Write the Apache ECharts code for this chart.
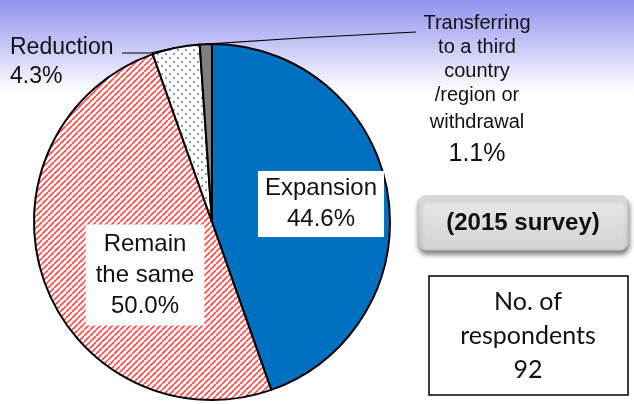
<!DOCTYPE html>
<html>
<head>
<meta charset="utf-8">
<script src="https://cdn.jsdelivr.net/npm/echarts@6/dist/echarts.min.js"></script>
<style>
  html, body { margin: 0; padding: 0; background: #fff; }
  #chart { width: 634px; height: 404px; }
</style>
</head>
<body>
<div id="chart"></div>
<script>
// data
const categories = ['Expansion', 'Remain the same', 'Reduction', 'Transferring to a third country /region or withdrawal'];
const shares = [44.6, 50.0, 4.3, 1.1];
const surveyLabel = '(2015 survey)';
const respondents = 92;

// fill patterns
function stripePattern() {
  const s = 6;
  const c = document.createElement('canvas');
  c.width = s; c.height = s;
  const ctx = c.getContext('2d');
  ctx.fillStyle = '#fff';
  ctx.fillRect(0, 0, s, s);
  ctx.strokeStyle = '#ff4848';
  ctx.lineWidth = 1.6;
  for (const x0 of [-s, 0, s]) {
    ctx.beginPath();
    ctx.moveTo(x0, s);
    ctx.lineTo(x0 + s, 0);
    ctx.stroke();
  }
  return c;
}
function dotPattern() {
  const s = 8;
  const c = document.createElement('canvas');
  c.width = s; c.height = s;
  const ctx = c.getContext('2d');
  ctx.fillStyle = '#fff';
  ctx.fillRect(0, 0, s, s);
  ctx.fillStyle = '#9a9a9a';
  for (const [x, y] of [[2, 2], [6, 6]]) {
    ctx.beginPath();
    ctx.arc(x, y, 1.2, 0, Math.PI * 2);
    ctx.fill();
  }
  return c;
}

const fills = [
  '#0070c0',
  { image: stripePattern(), repeat: 'repeat' },
  { image: dotPattern(), repeat: 'repeat' },
  '#808080'
];

const font = '"Liberation Sans", Arial, sans-serif';

// label text per slice
function labelText(i) {
  const pct = shares[i].toFixed(1) + '%';
  if (i === 0) return '{b|Expansion}\n{b|' + pct + '}';
  if (i === 1) return '{b|Remain}\n{b|the same}\n{b|' + pct + '}';
  if (i === 2) return '{r|Reduction}\n{r|' + pct + '}';
  return '{t|Transferring}\n{t|to a third}\n{t|country}\n{t|/region or}\n{w|withdrawal}\n{p|' + pct + '}';
}

// where each label sits
const labelSpots = [
  { x: 321, y: 204, align: 'center', verticalAlign: 'middle' },
  { x: 145, y: 275, align: 'center', verticalAlign: 'middle' },
  { x: 10, y: 33, align: 'left', verticalAlign: 'top' },
  { x: 477, y: 11, align: 'center', verticalAlign: 'top' }
];

const chart = echarts.init(document.getElementById('chart'));

const option = {
  backgroundColor: '#fff',
  animation: false,
  graphic: [
    {
      type: 'rect', z: -10, silent: true,
      shape: { x: 0, y: 0, width: 634, height: 92 },
      style: {
        fill: new echarts.graphic.LinearGradient(0, 0, 0, 1, [
          { offset: 0, color: '#9292ef' },
          { offset: 0.45, color: '#c2c2f6' },
          { offset: 1, color: '#ffffff' }
        ])
      }
    },
    {
      type: 'rect', z: 10,
      shape: { x: 418, y: 196, width: 210, height: 54, r: 8 },
      style: {
        fill: new echarts.graphic.LinearGradient(0, 0, 0, 1, [
          { offset: 0, color: '#e9e9e9' },
          { offset: 1, color: '#d3d3d3' }
        ]),
        stroke: '#c4c4c4', lineWidth: 1,
        shadowBlur: 5, shadowOffsetX: 1, shadowOffsetY: 4, shadowColor: 'rgba(0,0,0,0.5)'
      }
    },
    {
      type: 'text', z: 11, x: 523, y: 223,
      style: {
        text: surveyLabel, fill: '#111', align: 'center', verticalAlign: 'middle',
        font: 'bold 24px "Liberation Sans", Arial, sans-serif'
      }
    },
    {
      type: 'rect', z: 10,
      shape: { x: 429, y: 276, width: 199, height: 119 },
      style: { fill: '#fff', stroke: '#000', lineWidth: 1.5 }
    },
    {
      type: 'text', z: 11, x: 528, y: 336,
      style: {
        text: 'No. of\nrespondents\n' + respondents, fill: '#111',
        align: 'center', verticalAlign: 'middle', lineHeight: 34,
        font: '25px Lato, "Open Sans", sans-serif'
      }
    }
  ],
  series: [
    {
      type: 'pie',
      center: [212, 222],
      radius: 178,
      startAngle: 90,
      clockwise: true,
      avoidLabelOverlap: false,
      itemStyle: { borderColor: '#000', borderWidth: 2 },
      emphasis: { disabled: true },
      data: categories.map((name, i) => ({
        name: name,
        value: shares[i],
        itemStyle: { color: fills[i] },
        label: i < 2
          ? { position: 'inside', backgroundColor: '#fff', padding: i === 0 ? [2, 7] : [4, 10] }
          : { position: 'outside' },
        labelLine: { show: i >= 2, length: 10, length2: 10, lineStyle: { color: '#000', width: 1.2 } }
      })),
      label: {
        formatter: p => labelText(p.dataIndex),
        color: '#111',
        fontFamily: font,
        rich: {
          b: { fontSize: 24, lineHeight: 31, fontFamily: font, color: '#111', align: 'center' },
          r: { fontSize: 23, lineHeight: 29, fontFamily: font, color: '#111', align: 'left' },
          t: { fontSize: 20, lineHeight: 24, fontFamily: font, color: '#111', align: 'center' },
          w: { fontSize: 20, lineHeight: 31, fontFamily: font, color: '#111', align: 'center' },
          p: { fontSize: 25, lineHeight: 32, fontFamily: font, color: '#111', align: 'center' }
        }
      },
      labelLayout: function (params) {
        const spot = labelSpots[params.dataIndex];
        const out = { x: spot.x, y: spot.y, align: spot.align, verticalAlign: spot.verticalAlign };
        if (params.dataIndex >= 2 && params.labelLinePoints) {
          const start = params.labelLinePoints[0];
          if (params.dataIndex === 2) {
            out.labelLinePoints = [start, [150, 53], [122, 53]];
          } else {
            out.labelLinePoints = [start, [300, 38], [416, 32]];
          }
        }
        return out;
      }
    }
  ]
};

chart.setOption(option);
</script>
</body>
</html>
